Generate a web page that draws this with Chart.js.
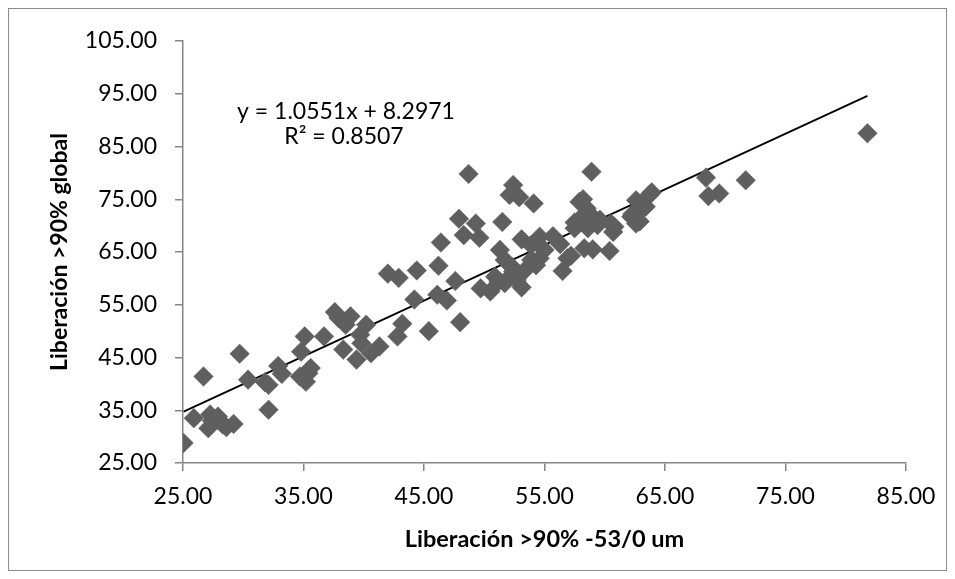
<!DOCTYPE html>
<html>
<head>
<meta charset="utf-8">
<script src="https://cdn.jsdelivr.net/npm/chart.js@4/dist/chart.umd.min.js"></script>
<style>
  html, body { margin: 0; padding: 0; background: #fff; }
  #wrap { position: relative; width: 955px; height: 579px; }
  #frame { position: absolute; left: 8px; top: 8px; width: 937px; height: 561px; border: 1px solid #8c8c8c; }
  canvas { position: absolute; left: 0; top: 0; }
</style>
</head>
<body>
<div id="wrap">
  <div id="frame"></div>
  <canvas id="scatter" width="955" height="579"></canvas>
</div>
<script>
// Liberación >90% -53/0 um (x) vs Liberación >90% global (y)
var xVals = [25.05, 25.9, 26.7, 27.1, 27.25, 27.4, 27.9, 28.3, 28.6, 29.2,
             29.7, 30.4, 31.8, 32.1, 32.1, 32.9, 33.2, 34.7, 34.8, 35.1,
             35.2, 35.4, 35.6, 36.7, 37.6, 37.9, 38.3, 38.5, 38.9, 39.4,
             39.7, 39.8, 40.2, 40.6, 41.3, 42.0, 42.8, 42.9, 43.2, 44.2,
             44.4, 45.4, 46.1, 46.2, 46.4, 46.9, 47.6, 48.0, 47.9, 48.3,
             48.7, 49.3, 49.6, 49.7, 50.5, 50.9, 51.2, 51.3, 51.5, 51.7,
             51.7, 52.0, 52.1, 52.3, 52.4, 52.4, 52.7, 52.9, 53.1, 53.1,
             53.4, 53.9, 53.9, 54.1, 54.3, 54.6, 54.6, 55.0, 55.7, 56.3,
             56.5, 56.9, 57.2, 57.5, 57.5, 57.9, 57.9, 58.2, 58.3, 58.5,
             58.6, 58.7, 58.9, 59.0, 59.4, 59.6, 60.4, 60.5, 60.7, 60.8,
             62.2, 62.3, 62.6, 62.6, 62.9, 63.0, 63.4, 63.7, 63.9, 68.4,
             68.6, 69.5, 71.7, 81.8];
var yVals = [28.8, 33.5, 41.4, 31.6, 34.2, 33.0, 33.8, 32.3, 31.8, 32.4,
             45.7, 40.8, 40.3, 39.8, 35.1, 43.4, 41.9, 41.4, 46.1, 49.0,
             40.4, 42.0, 43.0, 49.0, 53.6, 52.5, 46.5, 51.2, 52.8, 44.6,
             49.3, 47.7, 51.2, 45.8, 47.1, 60.9, 49.0, 60.1, 51.4, 56.0,
             61.5, 50.0, 56.9, 62.4, 66.8, 55.8, 59.5, 51.7, 71.3, 68.2,
             79.8, 70.4, 67.7, 58.1, 57.5, 60.3, 59.4, 65.4, 70.7, 59.1,
             63.5, 60.0, 75.8, 62.2, 77.7, 61.3, 59.7, 75.4, 58.3, 67.4,
             61.6, 66.3, 63.5, 74.2, 62.5, 67.9, 63.8, 65.4, 68.0, 66.5,
             61.4, 63.8, 64.3, 69.5, 70.6, 71.2, 74.5, 75.0, 65.7, 73.3,
             69.5, 72.4, 80.2, 65.5, 70.1, 71.1, 65.2, 70.4, 68.8, 69.8,
             71.7, 72.2, 74.8, 70.4, 70.8, 73.0, 73.6, 75.8, 76.3, 79.1,
             75.6, 76.1, 78.6, 87.5];

// linear trendline reported on the chart
var slope = 1.0551;
var intercept = 8.2971;
var rSquared = 0.8507;

var xTicks = [25, 35, 45, 55, 65, 75, 85];
var yTicks = [25, 35, 45, 55, 65, 75, 85, 95, 105];

var points = xVals.map(function (x, i) { return { x: x, y: yVals[i] }; });
var xMin = Math.min.apply(null, xVals);
var xMax = Math.max.apply(null, xVals);
var trend = [
    { x: xMin, y: slope * xMin + intercept },
    { x: xMax, y: slope * xMax + intercept }
];

var axisGrey = '#868686';
var fontFamily = 'Lato, "Liberation Sans", sans-serif';

var equationLabel = {
    id: 'equationLabel',
    afterDatasetsDraw: function (chart) {
        var ctx = chart.ctx;
        ctx.save();
        ctx.fillStyle = '#000';
        ctx.font = '23px ' + fontFamily;
        ctx.textAlign = 'center';
        ctx.textBaseline = 'middle';
        ctx.fillText('y = ' + slope + 'x + ' + intercept, 346, 112);
        ctx.fillText('R\u00B2 = ' + rSquared, 344, 137);
        ctx.restore();
    }
};

var ctx = document.getElementById('scatter').getContext('2d');
var myChart = new Chart(ctx, {
    type: 'scatter',
    data: {
        datasets: [{
            label: 'datos',
            data: points,
            pointStyle: 'rectRot',
            pointRadius: 9.8,
            pointHoverRadius: 9.8,
            backgroundColor: '#5f5f5f',
            borderColor: '#5f5f5f',
            borderWidth: 0.5
        }, {
            label: 'tendencia',
            type: 'line',
            data: trend,
            borderColor: '#000000',
            borderWidth: 1.8,
            pointRadius: 0,
            fill: false
        }]
    },
    options: {
        responsive: false,
        animation: false,
        layout: { padding: { left: 0, right: 49, top: 41, bottom: 0 } },
        plugins: {
            legend: { display: false },
            tooltip: { enabled: false }
        },
        scales: {
            x: {
                type: 'linear',
                min: 25,
                max: 85,
                afterFit: function (scale) { scale.height = 116; },
                afterBuildTicks: function (scale) {
                    scale.ticks = xTicks.map(function (v) { return { value: v }; });
                },
                border: { display: true, color: axisGrey, width: 1.5 },
                grid: { drawOnChartArea: false, drawTicks: true, tickLength: 8, color: axisGrey, lineWidth: 1.5 },
                ticks: {
                    padding: 12,
                    color: '#000',
                    font: { family: fontFamily, size: 23 },
                    maxRotation: 0,
                    callback: function (v) { return Number(v).toFixed(2); }
                },
                title: {
                    display: true,
                    text: 'Liberación >90% -53/0 um',
                    color: '#000',
                    font: { family: fontFamily, size: 23.5, weight: 'bold' },
                    padding: { top: 0, bottom: 25 }
                }
            },
            y: {
                type: 'linear',
                min: 25,
                max: 105,
                afterFit: function (scale) { scale.width = 183; },
                afterBuildTicks: function (scale) {
                    scale.ticks = yTicks.map(function (v) { return { value: v }; });
                },
                border: { display: true, color: axisGrey, width: 1.5 },
                grid: { drawOnChartArea: false, drawTicks: true, tickLength: 8, color: axisGrey, lineWidth: 1.5 },
                ticks: {
                    padding: 18,
                    color: '#000',
                    font: { family: fontFamily, size: 23 },
                    callback: function (v) { return Number(v).toFixed(2); }
                },
                title: {
                    display: true,
                    text: 'Liberación >90% global',
                    color: '#000',
                    font: { family: fontFamily, size: 23, weight: 'bold' },
                    padding: { top: 46, bottom: 0 }
                }
            }
        }
    },
    plugins: [equationLabel]
});
</script>
</body>
</html>
